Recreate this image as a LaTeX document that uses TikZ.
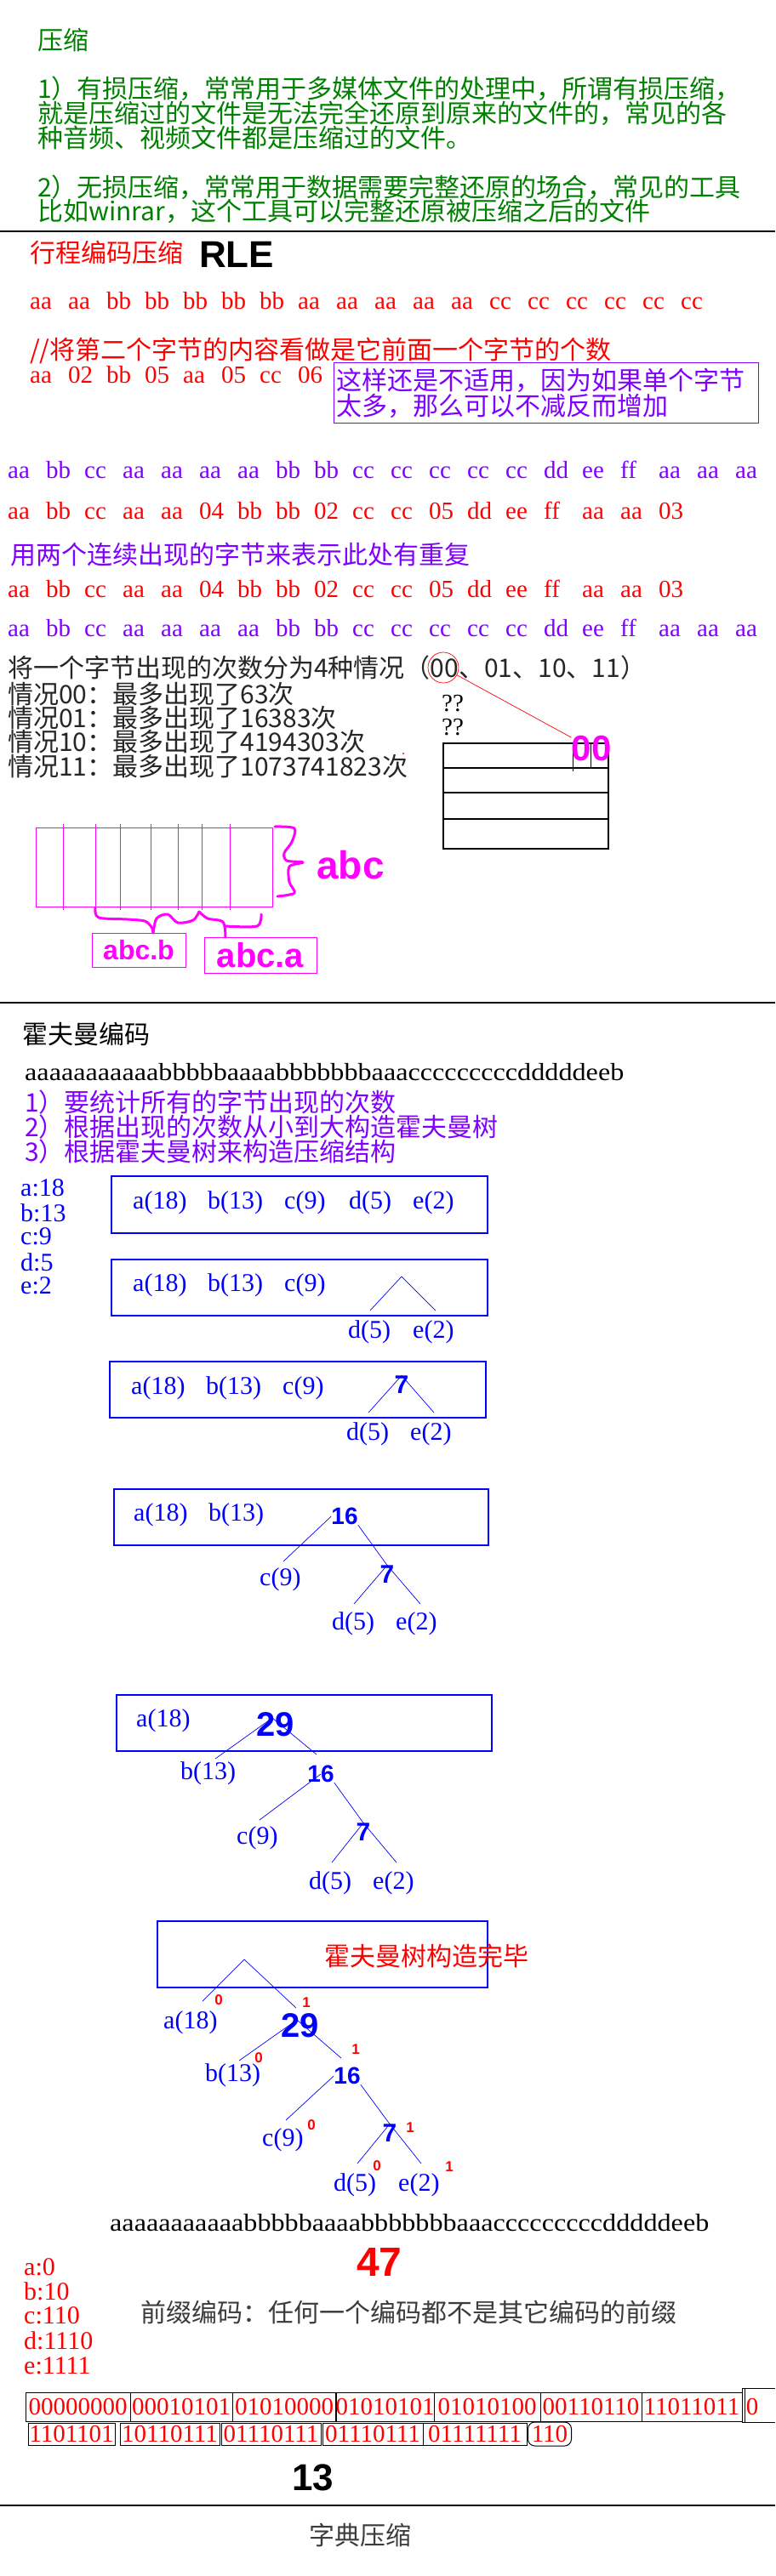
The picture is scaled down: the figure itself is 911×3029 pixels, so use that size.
\documentclass[tikz,border=0pt]{standalone}
\usepackage{fontspec}
\setmainfont{Liberation Serif}
\newfontfamily\cjk{Noto Sans CJK SC}
\newfontfamily\hand{Liberation Sans}

\definecolor{notegreen}{RGB}{0, 128, 0}
\definecolor{rlered}{RGB}{255, 0, 0}
\definecolor{runviolet}{RGB}{128, 0, 255}
\definecolor{treeblue}{RGB}{0, 0, 255}
\definecolor{penpink}{RGB}{255, 0, 255}
\definecolor{inkgray}{RGB}{60, 60, 60}

\newcommand{\srcbytes}{aaaaaaaaaaabbbbbaaaabbbbbbbaaacccccccccdddddeeb}
\newcommand{\pensize}[1]{\hand\bfseries\fontsize{#1}{#1}\selectfont}

\tikzset{
  cjkline/.style={anchor=west, inner sep=0pt, font=\cjk\fontsize{30}{30}\selectfont},
  token/.style={anchor=base west, inner sep=0pt, font=\fontsize{29}{29}\selectfont},
  leaf/.style={anchor=west, inner sep=0pt, text=treeblue, font=\fontsize{30}{30}\selectfont},
  pen/.style={inner sep=0pt, font=\pensize{30}},
  bitmark/.style={inner sep=0pt, text=rlered, font=\pensize{17}},
  stepframe/.style={draw=treeblue, line width=1.3pt},
  branch/.style={draw=treeblue, line width=0.7pt},
  bytebox/.style={draw=black, line width=1pt, inner sep=0pt, text=rlered, font=\fontsize{29}{29}\selectfont},
  penstroke/.style={draw=penpink, line width=3pt, line cap=round, line join=round},
  rule/.style={draw=black, line width=1.5pt},
}

\begin{document}
\begin{tikzpicture}[x=1pt, y=-1pt]
  \fill[white] (0,0) rectangle (911,3029);
  \useasboundingbox (0,0) rectangle (911,3029);

  % Lossy and lossless
  \node[cjkline, text=notegreen] (title) at (44,47) {压缩};
  \node[cjkline, text=notegreen] (lossya) at (44,104) {1）有损压缩，常常用于多媒体文件的处理中，所谓有损压缩，};
  \node[cjkline, text=notegreen] (lossyb) at (44,133) {就是压缩过的文件是无法完全还原到原来的文件的，常见的各};
  \node[cjkline, text=notegreen] (lossyc) at (44,162) {种音频、视频文件都是压缩过的文件。};
  \node[cjkline, text=notegreen] (losslessa) at (44,220) {2）无损压缩，常常用于数据需要完整还原的场合，常见的工具};
  \node[cjkline, text=notegreen] (losslessb) at (44,248) {比如winrar，这个工具可以完整还原被压缩之后的文件};
  \draw[rule] (0,272) -- (911,272);

  % Run length encoding
  \node[cjkline, text=rlered] (rletitle) at (35,297) {行程编码压缩};
  \node[pen, font=\pensize{44}] (rlepen) at (278,299) {RLE};
  \foreach \tok [count=\i from 0] in {aa,aa,bb,bb,bb,bb,bb,aa,aa,aa,aa,aa,cc,cc,cc,cc,cc,cc}
    \node[token, text=rlered] (raw\i) at ({35+45*\i},363) {\tok};
  \node[cjkline, text=rlered] (rlenote) at (35,412) {//将第二个字节的内容看做是它前面一个字节的个数};
  \foreach \tok [count=\i from 0] in {aa,02,bb,05,aa,05,cc,06}
    \node[token, text=rlered] (pair\i) at ({35+45*\i},450) {\tok};
  \node[draw=runviolet, line width=1.3pt, anchor=north west, text=runviolet, align=left,
        text width=493pt, inner xsep=3pt, inner ysep=0pt, minimum height=71,
        font=\cjk\fontsize{30}{30}\selectfont] (warn) at (392,426)
    {这样还是不适用，因为如果单个字节\\太多，那么可以不减反而增加};

  \foreach \tok [count=\i from 0] in {aa,bb,cc,aa,aa,aa,aa,bb,bb,cc,cc,cc,cc,cc,dd,ee,ff,aa,aa,aa}
    \node[token, text=runviolet] (runa\i) at ({9+45*\i},562) {\tok};
  \foreach \tok [count=\i from 0] in {aa,bb,cc,aa,aa,04,bb,bb,02,cc,cc,05,dd,ee,ff,aa,aa,03}
    \node[token, text=rlered] (packa\i) at ({9+45*\i},610) {\tok};
  \node[cjkline, text=runviolet] (twobyte) at (12,652) {用两个连续出现的字节来表示此处有重复};
  \foreach \tok [count=\i from 0] in {aa,bb,cc,aa,aa,04,bb,bb,02,cc,cc,05,dd,ee,ff,aa,aa,03}
    \node[token, text=rlered] (packb\i) at ({9+45*\i},702) {\tok};
  \foreach \tok [count=\i from 0] in {aa,bb,cc,aa,aa,aa,aa,bb,bb,cc,cc,cc,cc,cc,dd,ee,ff,aa,aa,aa}
    \node[token, text=runviolet] (runb\i) at ({9+45*\i},748) {\tok};

  % Four cases for the count
  \node[cjkline, text=black!85] (cases) at (9,785) {将一个字节出现的次数分为4种情况（00、01、10、11）};
  \node[cjkline, text=black!85] (casea) at (9,816) {情况00：最多出现了63次};
  \node[cjkline, text=black!85] (caseb) at (9,844) {情况01：最多出现了16383次};
  \node[cjkline, text=black!85] (casec) at (9,872) {情况10：最多出现了4194303次};
  \node[cjkline, text=black!85] (cased) at (9,901) {情况11：最多出现了1073741823次};
  \node[draw=rlered, line width=0.7pt, circle, minimum size=36, inner sep=0pt] (c00) at (521,785) {};
  \node[token, anchor=west] (qa) at (519,827) {??};
  \node[token, anchor=west] (qb) at (519,855) {??};
  \draw[line width=1.2pt] (521,874) rectangle (715,998);
  \foreach \y in {903,932,963}
    \draw[line width=1.2pt] (521,\y) -- (715,\y);
  \draw[line width=1pt] (673,874) -- (673,907);
  \draw[line width=1pt] (694,874) -- (694,903);
  \node[pen, text=penpink, font=\pensize{42}] (hm00) at (695,880) {00};
  \draw[rlered, line width=0.7pt] (c00) -- (hm00);
  \fill[rlered] (474,886) circle (1.2);

  % Bytes of one unit
  \draw[penpink, line width=0.8pt] (42,973) rectangle (320,1066);
  \foreach \x in {74,112,141,177,209,237,270}
    \draw[penpink, line width=0.8pt] (\x,969) -- (\x,1070);
  \draw[penstroke] plot[smooth] coordinates {(323,972) (346,974) (343,990) (334,1003) (337,1012) (356,1014) (340,1019) (340,1037) (346,1050) (326,1054)};
  \node[pen, text=penpink, font=\pensize{46}] (abc) at (412,1017) {abc};
  \node[draw=penpink, line width=1pt, minimum width=110, minimum height=40, pen, text=penpink, font=\pensize{32}] (abcb) at (163,1117) {abc.b};
  \node[draw=penpink, line width=1pt, minimum width=132, minimum height=42, pen, text=penpink, font=\pensize{40}] (abca) at (306,1123) {abc.a};
  \draw[penstroke] plot[smooth] coordinates {(112,1068) (116,1079) (150,1081) (170,1083) (178,1090) (180,1097)};
  \draw[penstroke] plot[smooth] coordinates {(180,1097) (184,1080) (197,1075) (209,1085) (227,1082) (234,1072)};
  \draw[penstroke] plot[smooth] coordinates {(234,1072) (244,1080) (262,1084) (265,1102)};
  \draw[penstroke] plot[smooth] coordinates {(265,1089) (302,1089) (307,1075)};
  \draw[rule] (0,1179) -- (911,1179);

  % Huffman coding
  \node[cjkline, text=black] (huff) at (26,1216) {霍夫曼编码};
  \node[token, text=black] (srca) at (29,1270) {\scalebox{1.11}[1]{\srcbytes}};
  \node[cjkline, text=runviolet] (hstepa) at (29,1296) {1）要统计所有的字节出现的次数};
  \node[cjkline, text=runviolet] (hstepb) at (29,1325) {2）根据出现的次数从小到大构造霍夫曼树};
  \node[cjkline, text=runviolet] (hstepc) at (29,1354) {3）根据霍夫曼树来构造压缩结构};
  \foreach \tok/\y [count=\i] in {a:18/1397, b:13/1426, c:9/1454, d:5/1484, e:2/1512}
    \node[leaf] (cnt\i) at (24,\y) {\tok};

  % Step 1
  \draw[stepframe] (131,1383) rectangle (573,1450);
  \foreach \tok/\x [count=\i] in {a(18)/156, b(13)/244, c(9)/334, d(5)/410, e(2)/485}
    \node[leaf] (sa\i) at (\x,1414) {\tok};

  % Step 2
  \draw[stepframe] (131,1481) rectangle (573,1547);
  \foreach \tok/\x [count=\i] in {a(18)/156, b(13)/244, c(9)/334}
    \node[leaf] (sb\i) at (\x,1511) {\tok};
  \coordinate (sbtop) at (472,1501);
  \coordinate (sbl) at (435,1541);
  \coordinate (sbr) at (512,1541);
  \draw[branch] (sbl) -- (sbtop) -- (sbr);
  \node[leaf] (sbd) at (409,1566) {d(5)};
  \node[leaf] (sbe) at (485,1566) {e(2)};

  % Step 3
  \draw[stepframe] (129,1601) rectangle (571,1667);
  \foreach \tok/\x [count=\i] in {a(18)/154, b(13)/242, c(9)/332}
    \node[leaf] (sc\i) at (\x,1632) {\tok};
  \node[pen, text=treeblue] (sc7) at (472,1628) {7};
  \coordinate (scl) at (433,1661);
  \coordinate (scr) at (510,1661);
  \draw[branch] (scl) -- (sc7.north) -- (scr);
  \node[leaf] (scd) at (407,1686) {d(5)};
  \node[leaf] (sce) at (482,1686) {e(2)};

  % Step 4
  \draw[stepframe] (134,1751) rectangle (574,1817);
  \node[leaf] (sda) at (157,1781) {a(18)};
  \node[leaf] (sdb) at (245,1781) {b(13)};
  \node[pen, text=treeblue, font=\pensize{28}] (sd16) at (405,1783) {16};
  \coordinate (sdc) at (333,1836);
  \draw[branch] (sd16.west) -- (sdc);
  \node[leaf] (sdcl) at (305,1857) {c(9)};
  \node[pen, text=treeblue] (sd7) at (455,1851) {7};
  \draw[branch] (sd16.south east) -- (sd7.north);
  \coordinate (sdl) at (416,1886);
  \coordinate (sdr) at (494,1886);
  \draw[branch] (sdl) -- (sd7.north) -- (sdr);
  \node[leaf] (sdd) at (390,1909) {d(5)};
  \node[leaf] (sde) at (465,1909) {e(2)};

  % Step 5
  \draw[stepframe] (137,1993) rectangle (578,2059);
  \node[leaf] (sea) at (160,2023) {a(18)};
  \node[pen, text=treeblue, font=\pensize{40}] (se29) at (324,2028) {29};
  \coordinate (setop) at (320,2020);
  \coordinate (sel) at (253,2068);
  \coordinate (ser) at (372,2063);
  \draw[branch] (sel) -- (setop) -- (ser);
  \node[leaf] (seb) at (212,2085) {b(13)};
  \node[pen, text=treeblue, font=\pensize{28}] (se16) at (377,2086) {16};
  \coordinate (sec) at (305,2140);
  \draw[branch] (se16.center) -- (sec);
  \node[leaf] (secl) at (278,2161) {c(9)};
  \node[pen, text=treeblue] (se7) at (427,2154) {7};
  \draw[branch] (se16.south east) -- (se7.north);
  \coordinate (sedl) at (390,2190);
  \coordinate (sedr) at (466,2190);
  \draw[branch] (sedl) -- (se7.north) -- (sedr);
  \node[leaf] (sed) at (363,2214) {d(5)};
  \node[leaf] (see) at (438,2214) {e(2)};

  % Finished tree
  \draw[stepframe] (185,2259) rectangle (573,2337);
  \node[cjkline, text=rlered] (done) at (381,2300) {霍夫曼树构造完毕};
  \coordinate (sftop) at (287,2304);
  \coordinate (sfl) at (238,2353);
  \coordinate (sfr) at (348,2361);
  \draw[branch] (sfl) -- (sftop) -- (sfr);
  \node[bitmark] (bita) at (257,2352) {0};
  \node[bitmark] (bitb) at (360,2355) {1};
  \node[leaf] (sfa) at (192,2378) {a(18)};
  \node[pen, text=treeblue, font=\pensize{40}] (sf29) at (353,2382) {29};
  \coordinate (sf29top) at (349,2375);
  \coordinate (sfbl) at (281,2423);
  \coordinate (sfbr) at (401,2420);
  \draw[branch] (sfbl) -- (sf29top) -- (sfbr);
  \node[bitmark] (bitc) at (304,2420) {0};
  \node[bitmark] (bitd) at (418,2410) {1};
  \node[leaf] (sfb) at (241,2440) {b(13)};
  \node[pen, text=treeblue, font=\pensize{28}] (sf16) at (408,2441) {16};
  \coordinate (sfc) at (336,2493);
  \draw[branch] (sf16.west) -- (sfc);
  \node[pen, text=treeblue] (sf7) at (458,2508) {7};
  \draw[branch] (sf16.south east) -- (sf7.north);
  \node[bitmark] (bite) at (366,2499) {0};
  \node[bitmark] (bitf) at (482,2502) {1};
  \node[leaf] (sfcl) at (308,2516) {c(9)};
  \coordinate (sfdl) at (420,2544);
  \coordinate (sfdr) at (495,2544);
  \draw[branch] (sfdl) -- (sf7.north) -- (sfdr);
  \node[bitmark] (bitg) at (443,2547) {0};
  \node[bitmark] (bith) at (528,2548) {1};
  \node[leaf] (sfd) at (392,2569) {d(5)};
  \node[leaf] (sfe) at (468,2569) {e(2)};

  % Prefix codes and packed bytes
  \node[token, text=black] (srcb) at (129,2623) {\scalebox{1.11}[1]{\srcbytes}};
  \node[pen, text=rlered, font=\pensize{48}] (total) at (446,2660) {47};
  \foreach \tok/\y [count=\i] in {a:0/2666, b:10/2694, c:110/2723, d:1110/2752, e:1111/2782}
    \node[leaf, text=rlered] (code\i) at (28,\y) {\tok};
  \node[cjkline, text=inkgray] (prefix) at (165,2719) {前缀编码：任何一个编码都不是其它编码的前缀};
  \foreach \lft/\rgt/\bits [count=\i] in {30/153/00000000, 153/273/00010101, 273/395/01010000, 395/510/01010101, 510/635/01010100, 635/754/00110110, 754/872/11011011}
    \node[bytebox, minimum width={\rgt-\lft}, minimum height=34] (byte\i) at ({(\lft+\rgt)/2},2830) {\bits};
  \draw[line width=1pt] (911,2808) -- (872,2808) -- (872,2848) -- (911,2848);
  \draw[line width=1pt] (875,2808) -- (875,2848);
  \node[bytebox, draw=none] (byte8) at (884,2830) {0};
  \foreach \lft/\rgt/\bits [count=\i from 9] in {33/135/1101101, 141/258/10110111, 260/377/01110111, 379/497/01110111, 497/619/01111111}
    \node[bytebox, minimum width={\rgt-\lft}, minimum height=26] (byte\i) at ({(\lft+\rgt)/2},2862) {\bits};
  \node[bytebox, rounded corners=8pt, minimum width=51, minimum height=28] (byte14) at (646,2862) {110};
  \node[pen, text=black, font=\pensize{44}] (nbytes) at (368,2913) {13};
  \draw[rule] (0,2946) -- (911,2946);

  % Dictionary
  \node[cjkline, text=inkgray] (dict) at (363,2981) {字典压缩};
\end{tikzpicture}
\end{document}
